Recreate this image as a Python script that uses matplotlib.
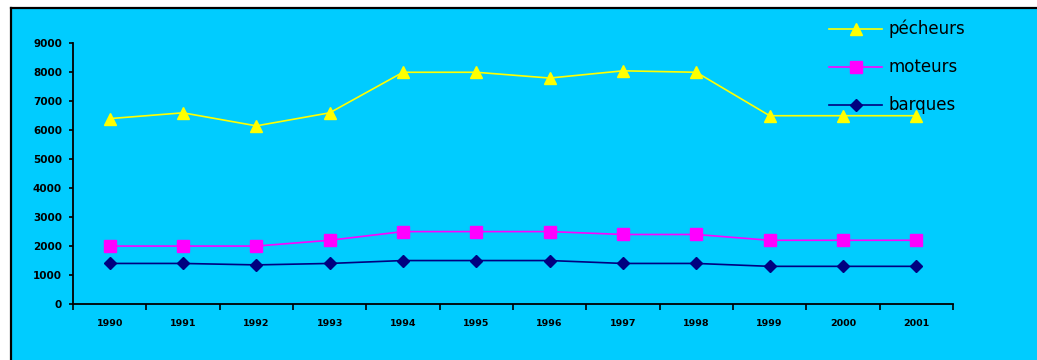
import matplotlib
matplotlib.use("Agg")
import matplotlib.pyplot as plt
from matplotlib.patches import Rectangle
from matplotlib.lines import Line2D
import numpy as np

years = ["1990", "1991", "1992", "1993", "1994", "1995",
         "1996", "1997", "1998", "1999", "2000", "2001"]
pecheurs = [6400, 6600, 6150, 6600, 8000, 8000, 7800, 8050, 8000, 6500, 6500, 6500]
moteurs = [2000, 2000, 2000, 2200, 2500, 2500, 2500, 2400, 2400, 2200, 2200, 2200]
barques = [1400, 1400, 1350, 1400, 1500, 1500, 1500, 1400, 1400, 1300, 1300, 1300]
y_ticks = [0, 1000, 2000, 3000, 4000, 5000, 6000, 7000, 8000, 9000]

BG = "#00CCFF"
W, H = 1037, 360
fig = plt.figure(figsize=(W / 100, H / 100), dpi=100)
fig.patch.set_facecolor("white")

# cyan chart area with a black frame on the left and top
fig.patches.append(Rectangle((11 / W, 0), 1, 1 - 8 / H, transform=fig.transFigure,
                             facecolor=BG, edgecolor="none", zorder=-10))
fig.lines.append(Line2D([11 / W, 11 / W], [0, 1 - 8 / H], transform=fig.transFigure,
                        color="black", lw=1.6, zorder=-5))
fig.lines.append(Line2D([11 / W, 1], [1 - 8 / H, 1 - 8 / H], transform=fig.transFigure,
                        color="black", lw=1.6, zorder=-5))

x0, x1 = 73, 953
y0, y1 = 304, 43.3
ax = fig.add_axes([x0 / W, 1 - y0 / H, (x1 - x0) / W, (y0 - y1) / H])
ax.set_facecolor("none")

x = np.arange(len(years))
ax.plot(x, pecheurs, color="#FFFF00", lw=1.2, marker="^", ms=9, mec="#FFFF00",
        label="pécheurs", zorder=3)
ax.plot(x, moteurs, color="#FF00FF", lw=1.2, marker="s", ms=8, mec="#FF00FF",
        label="moteurs", zorder=3)
ax.plot(x, barques, color="#000080", lw=1.2, marker="D", ms=6, mec="#000080",
        label="barques", zorder=3)

ax.set_xlim(-0.5, len(years) - 0.5)
ax.set_ylim(0, 9000)
ax.set_yticks(y_ticks)
ax.set_yticklabels([str(v) for v in y_ticks], fontsize=7.5, fontweight="bold")
ax.set_xticks(x)
ax.set_xticklabels(years, fontsize=6.8, fontweight="bold")
ax.set_xticks(np.arange(-0.5, len(years)), minor=True)
ax.tick_params(axis="x", which="major", length=0, pad=11)
ax.tick_params(axis="x", which="minor", length=4, width=1.2, direction="out")
ax.tick_params(axis="y", length=3, width=1.2, direction="out", pad=5)
for s in ["top", "right"]:
    ax.spines[s].set_visible(False)
for s in ["left", "bottom"]:
    ax.spines[s].set_linewidth(1.3)
    ax.spines[s].set_color("black")

leg = ax.legend(loc="upper left", bbox_to_anchor=(829 / W, 1 - 20 / H),
                bbox_transform=fig.transFigure, frameon=False, fontsize=12,
                handlelength=3.2, handletextpad=0.35, labelspacing=1.2,
                borderpad=0, borderaxespad=0)
for t in leg.get_texts():
    t.set_color("black")

fig.savefig("out.png", dpi=100, facecolor="white")
